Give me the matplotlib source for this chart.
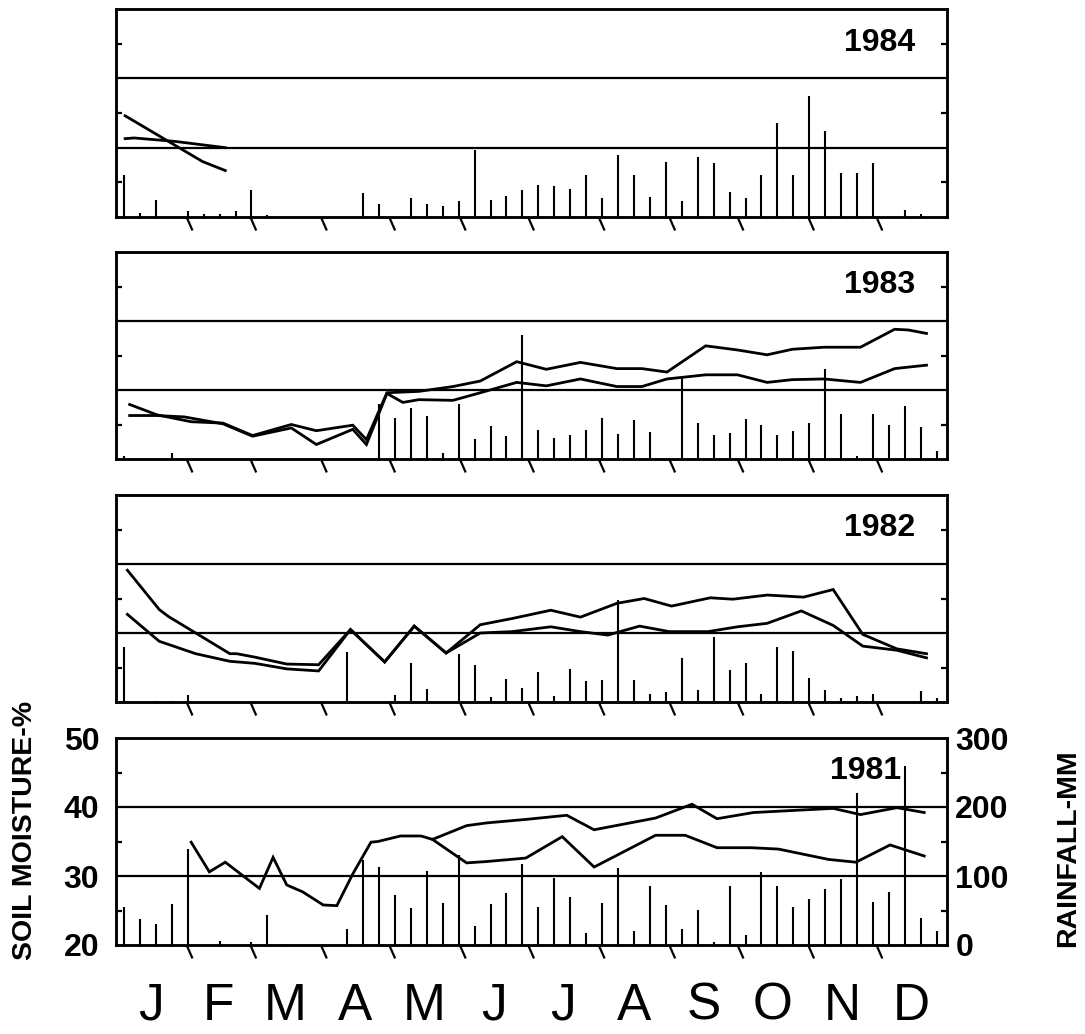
import matplotlib
matplotlib.use("Agg")
import matplotlib.pyplot as plt
import numpy as np

plt.rcParams['font.family'] = ['Liberation Sans', 'DejaVu Sans']

# ---------------- data ----------------
years = ["1984", "1983", "1982", "1981"]
month_labels = ["J", "F", "M", "A", "M", "J", "J", "A", "S", "O", "N", "D"]
month_days = [31, 28, 31, 30, 31, 30, 31, 31, 30, 31, 30, 31]
weeks = np.arange(1, 53)

sm_ticks = [20, 30, 40, 50]
rain_ticks = [0, 100, 200, 300]

# weekly rainfall (mm)
rain_1984 = [61, 6, 25, 0, 8, 5, 5, 8, 39, 3, 0, 0, 0, 0, 0, 35, 19, 0, 27, 19,
             16, 23, 97, 25, 31, 39, 46, 44, 41, 60, 28, 90, 61, 29, 80, 23, 87, 78, 36, 28,
             60, 136, 60, 174, 124, 63, 63, 78, 0, 10, 5, 0]
rain_1983 = [4, 0, 0, 9, 0, 0, 0, 0, 0, 0, 0, 0, 0, 0, 0, 0, 80, 59, 74, 63,
             8, 79, 29, 48, 33, 180, 42, 30, 35, 42, 59, 36, 57, 39, 0, 117, 52, 35, 38, 58,
             50, 35, 41, 52, 130, 65, 5, 65, 50, 77, 47, 12]
rain_1982 = [80, 0, 2, 2, 10, 0, 0, 0, 0, 0, 0, 0, 0, 0, 73, 0, 0, 10, 56, 19,
             0, 70, 53, 7, 34, 21, 44, 8, 48, 30, 32, 148, 32, 12, 15, 64, 18, 94, 46, 56,
             11, 80, 74, 35, 18, 6, 8, 11, 0, 0, 16, 6]
rain_1981 = [55, 38, 31, 59, 139, 0, 6, 0, 4, 43, 2, 0, 0, 0, 23, 123, 113, 73, 53, 107,
             61, 130, 28, 60, 76, 117, 55, 97, 69, 18, 61, 111, 21, 86, 58, 23, 51, 4, 85, 15,
             106, 85, 55, 67, 81, 95, 220, 63, 77, 260, 39, 21]

# soil moisture (%), two depths, sampled on day of year
sm_1984_a_day = [4, 38, 48]
sm_1984_a = [34.6, 28.0, 26.7]
sm_1984_b_day = [4, 8, 26, 48]
sm_1984_b = [31.3, 31.4, 30.9, 30.0]

sm_1983_a_day = [6, 18, 33, 47, 60, 77, 88, 104, 110, 119, 133, 148, 160, 176, 189, 204,
                 220, 231, 242, 259, 273, 286, 297, 311, 327, 342, 348, 356]
sm_1983_a = [27.9, 26.4, 25.4, 25.2, 23.4, 25.0, 24.1, 24.9, 22.8, 29.6, 29.8, 30.5, 31.3,
             34.1, 33.0, 34.0, 33.1, 33.1, 32.6, 36.4, 35.8, 35.1, 35.9, 36.2, 36.2, 38.8,
             38.7, 38.2]
sm_1983_b_day = [6, 18, 30, 47, 60, 77, 88, 104, 110, 119, 126, 133, 148, 160, 176, 189,
                 204, 220, 231, 242, 259, 273, 286, 297, 311, 327, 342, 356]
sm_1983_b = [26.3, 26.3, 26.1, 25.1, 23.3, 24.5, 22.1, 24.3, 22.1, 29.5, 28.2, 28.6, 28.5,
             29.6, 31.1, 30.6, 31.6, 30.5, 30.5, 31.6, 32.2, 32.2, 31.1, 31.5, 31.6, 31.1,
             33.1, 33.6]

sm_1982_a_day = [5, 19, 23, 35, 50, 53, 61, 75, 89, 103, 118, 131, 145, 160, 174, 191,
                 204, 220, 232, 244, 261, 271, 286, 302, 315, 328, 343, 356]
sm_1982_a = [39.1, 33.4, 32.4, 30.0, 27.0, 27.0, 26.5, 25.5, 25.4, 30.5, 25.8, 31.0, 27.1,
             31.2, 32.1, 33.3, 32.3, 34.3, 35.0, 33.9, 35.1, 34.9, 35.5, 35.2, 36.3, 29.8,
             27.7, 27.0]
sm_1982_b_day = [5, 19, 35, 50, 61, 75, 89, 103, 118, 131, 145, 160, 174, 191, 204, 216,
                 230, 243, 260, 273, 286, 301, 315, 328, 343, 356]
sm_1982_b = [32.7, 28.8, 27.0, 25.9, 25.6, 24.8, 24.5, 30.5, 25.8, 31.0, 27.1, 30.0, 30.2,
             30.9, 30.2, 29.7, 31.0, 30.2, 30.2, 30.9, 31.4, 33.2, 31.1, 28.1, 27.5, 26.4]

sm_1981_a_day = [33, 41, 48, 63, 69, 75, 82, 91, 97, 104, 112, 115, 125, 134, 139, 154,
                 163, 180, 198, 210, 237, 253, 264, 280, 315, 327, 343, 355]
sm_1981_a = [34.9, 30.6, 32.0, 28.2, 32.7, 28.7, 27.7, 25.8, 25.7, 30.3, 34.9, 35.0, 35.8,
             35.8, 35.3, 37.3, 37.7, 38.2, 38.8, 36.7, 38.4, 40.4, 38.3, 39.2, 39.8, 38.9,
             39.9, 39.2]
sm_1981_b_day = [139, 154, 163, 180, 196, 210, 237, 250, 264, 279, 291, 313, 325, 340, 355]
sm_1981_b = [35.3, 31.9, 32.1, 32.6, 35.7, 31.3, 35.9, 35.9, 34.1, 34.1, 33.9, 32.4, 32.0,
             34.5, 32.9]

panels = {
    "1984": (rain_1984, sm_1984_a_day, sm_1984_a, sm_1984_b_day, sm_1984_b),
    "1983": (rain_1983, sm_1983_a_day, sm_1983_a, sm_1983_b_day, sm_1983_b),
    "1982": (rain_1982, sm_1982_a_day, sm_1982_a, sm_1982_b_day, sm_1982_b),
    "1981": (rain_1981, sm_1981_a_day, sm_1981_a, sm_1981_b_day, sm_1981_b),
}

# ---------------- layout ----------------
W, H = 1085, 1034
fig = plt.figure(figsize=(W / 100, H / 100), dpi=100)
left_px, right_px = 116, 947
panel_px = {"1984": (9, 217), "1983": (252, 459), "1982": (495, 702), "1981": (738, 945)}
label_x = {"1984": 351, "1983": 351, "1982": 351, "1981": 345}

bounds = np.cumsum([0] + month_days)
centers = (bounds[:-1] + bounds[1:]) / 2
week_x = (weeks - 0.5) * 7

LW = 1.8
for yr in years:
    top, bot = panel_px[yr]
    ax = fig.add_axes([left_px / W, 1 - bot / H, (right_px - left_px) / W, (bot - top) / H])
    rain, da, sa, db, sb = panels[yr]
    ax.set_xlim(0, 365)
    ax.set_ylim(20, 50)
    for s in ax.spines.values():
        s.set_linewidth(LW)
    for g in (30, 40):
        ax.axhline(g, color='black', lw=1.6, zorder=1)
    ax.plot(da, sa, color='black', lw=2.0, solid_joinstyle='miter', zorder=3)
    ax.plot(db, sb, color='black', lw=2.0, solid_joinstyle='miter', zorder=3)

    ax2 = ax.twinx()
    ax2.set_ylim(0, 300)
    ax2.vlines(week_x, 0, rain, color='black', lw=1.5)
    for s in ax2.spines.values():
        s.set_linewidth(LW)

    ax.set_xticks([])
    ax2.set_xticks([])
    ax.set_yticks(sm_ticks)
    ax.set_yticks([25, 35, 45], minor=True)
    ax2.set_yticks(rain_ticks)
    ax2.set_yticks([50, 150, 250], minor=True)
    ax.tick_params(axis='y', which='major', length=0, pad=12)
    ax.tick_params(axis='y', which='minor', direction='in', length=4, width=1.6)
    ax2.tick_params(axis='y', which='major', length=0, pad=6)
    ax2.tick_params(axis='y', which='minor', direction='in', length=4, width=1.6)

    if yr == "1981":
        ax.set_yticklabels([str(v) for v in sm_ticks], fontsize=23, fontweight='bold')
        ax2.set_yticklabels([str(v) for v in rain_ticks], fontsize=23, fontweight='bold')
        for c, m in zip(centers, month_labels):
            ax.text(c, -0.362, m, transform=ax.get_xaxis_transform(), ha='center',
                    va='baseline', fontsize=37)
    else:
        ax.set_yticklabels([])
        ax2.set_yticklabels([])

    # slanted month-boundary ticks
    for b in bounds[1:-1]:
        ax.plot([b, b + 2.6], [0, -0.065], transform=ax.get_xaxis_transform(),
                clip_on=False, color='black', lw=1.6, solid_capstyle='butt')

    ax.text(label_x[yr], 44.0, yr, ha='right', va='baseline', fontsize=23,
            fontweight='bold', zorder=5)

fig.text(25 / W, 1 - 830 / H, "SOIL MOISTURE-%", rotation=90, ha='center', va='center',
         fontsize=20.5, fontweight='bold')
fig.text(1068 / W, 1 - 848 / H, "RAINFALL-MM", rotation=90, ha='center', va='center',
         fontsize=20.5, fontweight='bold')

fig.savefig("out.png", dpi=100)
